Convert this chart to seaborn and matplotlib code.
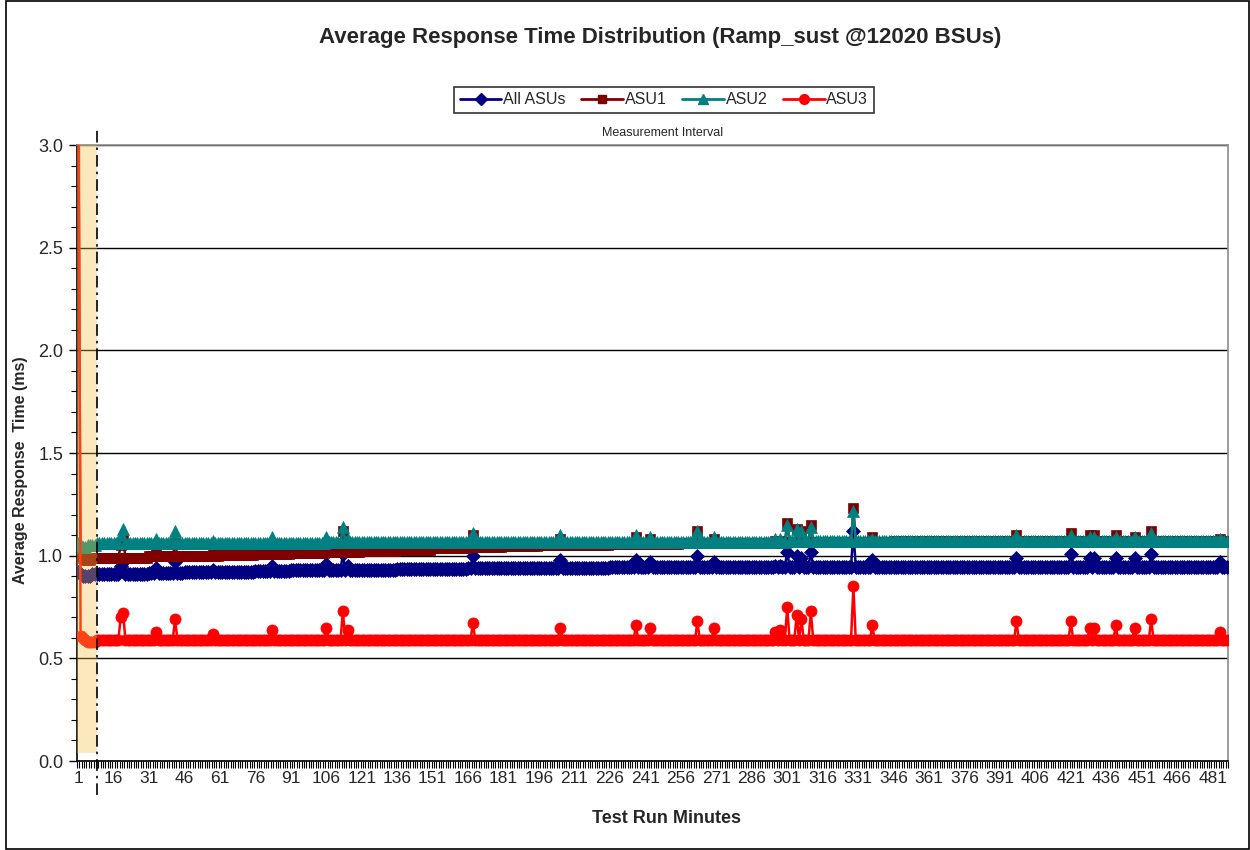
import numpy as np
import matplotlib
matplotlib.use("Agg")
import matplotlib.pyplot as plt
import seaborn as sns
from matplotlib.lines import Line2D
from matplotlib.patches import Rectangle

# ---------------------------------------------------------------------------
# Data
# ---------------------------------------------------------------------------

n_minutes = 487
series_names = ["All ASUs", "ASU1", "ASU2", "ASU3"]

# minutes 1-8 (start-up, shaded)
all_startup = [0.92, 0.91, 0.90, 0.90, 0.90, 0.90, 0.91, 0.91]
asu1_startup = [3.30, 1.00, 0.99, 0.98, 0.98, 0.98, 0.99, 0.99]
asu2_startup = [1.06, 1.05, 1.04, 1.04, 1.05, 1.05, 1.05, 1.05]
asu3_startup = [4.00, 0.61, 0.60, 0.59, 0.58, 0.58, 0.58, 0.58]

# typical level for each 15-minute block (1-15, 16-30, ... 481-495)
all_levels = [0.91, 0.91, 0.915, 0.92, 0.92, 0.925, 0.93, 0.93, 0.93, 0.935,
              0.935, 0.94, 0.94, 0.94, 0.94, 0.945, 0.945, 0.945, 0.945, 0.945,
              0.945, 0.945, 0.945, 0.945, 0.945, 0.945, 0.945, 0.945, 0.945,
              0.945, 0.945, 0.945, 0.945]
asu1_levels = [0.99, 0.99, 1.00, 1.00, 1.005, 1.01, 1.015, 1.02, 1.025, 1.03,
               1.035, 1.04, 1.045, 1.05, 1.05, 1.055, 1.055, 1.06, 1.06, 1.06,
               1.065, 1.065, 1.065, 1.07, 1.07, 1.07, 1.07, 1.07, 1.07, 1.07,
               1.07, 1.07, 1.07]
asu2_levels = [1.06, 1.06, 1.06, 1.06, 1.06, 1.06, 1.06, 1.065, 1.065, 1.065,
               1.065, 1.065, 1.065, 1.065, 1.065, 1.065, 1.065, 1.065, 1.065,
               1.065, 1.07, 1.07, 1.07, 1.07, 1.07, 1.07, 1.07, 1.07, 1.07,
               1.07, 1.07, 1.07, 1.07]
asu3_levels = [0.59] * 33

# single-minute spikes
spike_minutes = [19, 20, 34, 42, 58, 83, 106, 113, 115, 168, 205, 237, 243,
                 263, 270, 296, 298, 301, 305, 307, 311, 329, 337, 398, 421,
                 429, 431, 440, 448, 455, 484]
all_spikes = [0.95, 0.97, 0.94, 0.97, 0.93, 0.95, 0.96, 1.01, 0.95, 1.00,
              0.98, 0.98, 0.97, 1.00, 0.97, 0.95, 0.95, 1.02, 1.00, 0.99,
              1.02, 1.12, 0.98, 0.99, 1.01, 0.99, 0.99, 0.99, 0.99, 1.01, 0.97]
asu1_spikes = [1.05, 1.08, 1.02, 1.06, 1.01, 1.03, 1.05, 1.12, 1.04, 1.10,
               1.08, 1.09, 1.08, 1.12, 1.08, 1.07, 1.07, 1.16, 1.13, 1.12,
               1.15, 1.23, 1.09, 1.10, 1.11, 1.10, 1.10, 1.10, 1.09, 1.12, 1.08]
asu2_spikes = [1.10, 1.13, 1.08, 1.12, 1.07, 1.09, 1.09, 1.14, 1.08, 1.11,
               1.10, 1.10, 1.09, 1.12, 1.09, 1.08, 1.08, 1.15, 1.13, 1.12,
               1.14, 1.22, 1.08, 1.10, 1.10, 1.09, 1.09, 1.09, 1.09, 1.11, 1.08]
asu3_spikes = [0.70, 0.72, 0.63, 0.69, 0.62, 0.64, 0.65, 0.73, 0.64, 0.67,
               0.65, 0.66, 0.65, 0.68, 0.65, 0.63, 0.64, 0.75, 0.71, 0.69,
               0.73, 0.85, 0.66, 0.68, 0.68, 0.65, 0.65, 0.66, 0.65, 0.69, 0.63]

tick_labels = [str(m) for m in range(1, 482, 15)]
startup_end = 8.8


def build_series(startup, levels, spikes):
    vals = np.repeat(np.array(levels, dtype=float), 15)[:n_minutes]
    vals[:len(startup)] = startup
    vals[np.array(spike_minutes) - 1] = spikes
    return vals


minutes = np.arange(1, n_minutes + 1)
series = {
    "All ASUs": build_series(all_startup, all_levels, all_spikes),
    "ASU1": build_series(asu1_startup, asu1_levels, asu1_spikes),
    "ASU2": build_series(asu2_startup, asu2_levels, asu2_spikes),
    "ASU3": build_series(asu3_startup, asu3_levels, asu3_spikes),
}
styles = {
    "All ASUs": dict(color="#000080", marker="D", ms=7),
    "ASU1": dict(color="#800000", marker="s", ms=6.5),
    "ASU2": dict(color="#008080", marker="^", ms=8.5),
    "ASU3": dict(color="#FF0000", marker="o", ms=8),
}

# ---------------------------------------------------------------------------
# Plot
# ---------------------------------------------------------------------------

sns.set_style("white")
plt.rcParams["font.family"] = ["Liberation Sans", "DejaVu Sans"]

fig = plt.figure(figsize=(12.5, 8.5), dpi=100)
ax = fig.add_axes([0.0616, 0.1047, 0.9208, 0.7247])

for name in series_names:
    st = styles[name]
    sns.lineplot(x=minutes, y=series[name], ax=ax, color=st["color"],
                 marker=st["marker"], markersize=st["ms"],
                 markeredgecolor=st["color"], markeredgewidth=0.5,
                 linewidth=1.8, zorder=3, legend=False)

# start-up shading drawn over the lines, semi-transparent
ax.fill_between([0.5, startup_end], 0.04, 3.0, color="#F5C242", alpha=0.35,
                lw=0, zorder=5)
ax.axvline(startup_end, ymin=-0.055, ymax=1.028, color="black", lw=1.2,
           dashes=(7, 3, 1.5, 3), clip_on=False, zorder=6)

ax.set_xlim(0.5, n_minutes + 0.5)
ax.set_ylim(0, 3.0)
ax.set_yticks(np.arange(0, 3.01, 0.5))
ax.set_yticklabels([f"{v:.1f}" for v in np.arange(0, 3.01, 0.5)], fontsize=13)
ax.set_yticks(np.arange(0, 3.01, 0.1), minor=True)
ax.set_xticks(range(1, 482, 15))
ax.set_xticklabels(tick_labels, fontsize=12.5)
ax.set_xticks(np.arange(0.5, n_minutes + 1, 1), minor=True)
ax.tick_params(axis="x", which="major", length=0, pad=7)
ax.tick_params(axis="x", which="minor", length=5, width=0.8, color="black",
               bottom=True)
ax.tick_params(axis="y", which="major", length=6, width=1, color="black",
               left=True, pad=4)
ax.tick_params(axis="y", which="minor", length=4, width=0.8, color="black",
               left=True)
ax.set_xlabel("")
ax.set_ylabel("")

ax.grid(axis="y", which="major", color="black", lw=1)
ax.set_axisbelow(True)
for side in ["left", "bottom"]:
    ax.spines[side].set_color("black")
    ax.spines[side].set_linewidth(1.2)
for side in ["top", "right"]:
    ax.spines[side].set_color("#8c8c8c")
    ax.spines[side].set_linewidth(1.2)

ax.text((startup_end + n_minutes + 0.5) / 2, 3.03, "Measurement Interval",
        fontsize=9, ha="center", va="bottom")

handles = [Line2D([], [], color=styles[n]["color"], marker=styles[n]["marker"],
                  markersize=styles[n]["ms"] - 1, lw=2) for n in series_names]
leg = fig.legend(handles, series_names, loc="center", ncol=4, fontsize=11.5,
                 bbox_to_anchor=(0.5312, 0.8824), frameon=True, fancybox=False,
                 handlelength=2.6, handletextpad=0.1, columnspacing=1.0,
                 borderpad=0.35)
leg.get_frame().set_edgecolor("black")
leg.get_frame().set_linewidth(1.2)

fig.text(0.528, 0.956, "Average Response Time Distribution (Ramp_sust @12020 BSUs)",
         fontsize=16, fontweight="bold", ha="center", va="center")
fig.text(0.5336, 0.0376, "Test Run Minutes", fontsize=13, fontweight="bold",
         ha="center", va="center")
fig.text(0.0165, 0.447, "Average Response  Time (ms)", fontsize=11.5,
         fontweight="bold", ha="center", va="center", rotation=90)

fig.patches.append(Rectangle((0.005, 0.001), 0.994, 0.998, transform=fig.transFigure,
                             fill=False, edgecolor="black", lw=1.2))

fig.savefig("out.png", dpi=100)
